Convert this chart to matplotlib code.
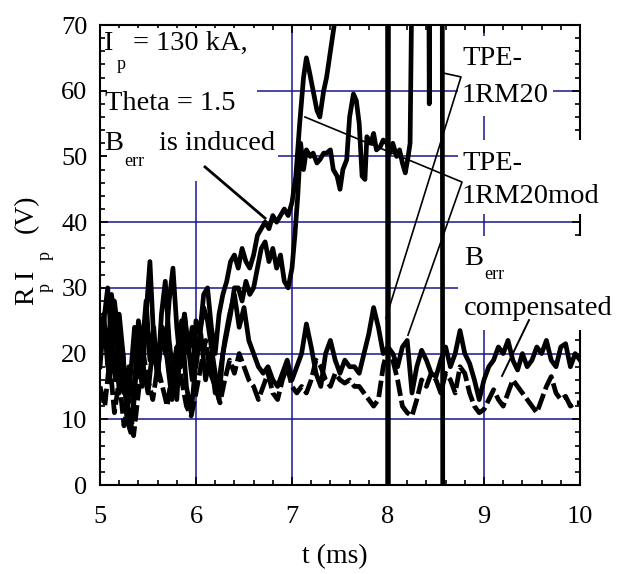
import matplotlib
matplotlib.use("Agg")
import matplotlib.pyplot as plt
from matplotlib.patches import Rectangle
from matplotlib.ticker import MultipleLocator

plt.rcParams['font.family'] = ['Liberation Serif', 'DejaVu Serif']

# ---------------- data ----------------
x_ticks = [5, 6, 7, 8, 9, 10]
y_ticks = [0, 10, 20, 30, 40, 50, 60, 70]

# TPE-1RM20 (error field induced)
a_t = [5.00, 5.04, 5.08, 5.12, 5.16, 5.20, 5.24, 5.28, 5.32, 5.36, 5.40, 5.44, 5.48, 5.52,
       5.56, 5.60, 5.64, 5.68, 5.72, 5.76, 5.80, 5.84, 5.88, 5.92, 5.96, 6.00, 6.04, 6.08,
       6.12, 6.16, 6.20, 6.24, 6.28, 6.32, 6.36, 6.40, 6.44, 6.48, 6.52, 6.56, 6.60, 6.64,
       6.68, 6.72, 6.76, 6.80, 6.84, 6.88, 6.92, 6.96, 7.00, 7.04, 7.08, 7.12, 7.15, 7.18,
       7.22, 7.26, 7.29, 7.33, 7.36, 7.40, 7.44, 7.48, 7.995, 8.000, 8.005, 8.425, 8.430,
       8.435, 8.565, 8.570]
a_v = [22, 26, 18, 29, 24, 14, 20, 12, 17, 24, 19, 15, 26, 34,
       22, 17, 23, 20, 28, 33, 24, 18, 26, 21, 16, 25, 23, 29,
       30, 24, 20, 26, 29, 31, 34, 35, 33, 36, 34, 33, 35, 38,
       39, 40, 39, 41, 40, 41, 42, 41, 43, 47, 55, 62, 65, 63,
       60, 57, 56, 60, 62, 66, 70, 78, 78, 0, 78, 78, 58,
       78, 78, 0]

# TPE-1RM20mod (error field induced)
b_t = [5.00, 5.04, 5.08, 5.12, 5.16, 5.20, 5.24, 5.28, 5.32, 5.36, 5.40, 5.44, 5.48, 5.52,
       5.56, 5.60, 5.64, 5.68, 5.72, 5.76, 5.80, 5.84, 5.88, 5.92, 5.96, 6.00, 6.04, 6.08,
       6.12, 6.16, 6.20, 6.24, 6.28, 6.32, 6.36, 6.40, 6.44, 6.48, 6.52, 6.56, 6.60, 6.64,
       6.68, 6.72, 6.76, 6.80, 6.84, 6.88, 6.92, 6.96, 7.00, 7.03, 7.06, 7.09, 7.12, 7.15,
       7.19, 7.22, 7.26, 7.29, 7.33, 7.36, 7.40, 7.43, 7.47, 7.50, 7.53, 7.57, 7.60, 7.64,
       7.67, 7.70, 7.73, 7.76, 7.78, 7.82, 7.85, 7.88, 7.92, 7.95, 7.99, 8.02, 8.05, 8.09,
       8.12, 8.15, 8.18, 8.21, 8.23, 8.25]
b_v = [18, 25, 30, 22, 16, 26, 20, 10, 8, 15, 25, 21, 28, 19,
       24, 16, 26, 31, 22, 17, 13, 22, 26, 20, 24, 18, 23, 27,
       25, 21, 17, 13, 20, 23, 26, 30, 30, 28, 31, 29, 30, 33,
       36, 37, 34, 36, 33, 35, 31, 30, 33, 38, 44, 52, 48, 51,
       50, 50.5, 49, 49.5, 50.5, 50.5, 51, 48, 47, 45, 48, 49.5, 56, 59.5,
       58.5, 55, 47, 46.5, 53, 52, 53.5, 51, 51.5, 52.5, 52, 50.5, 52, 50,
       51, 49, 47.5, 50, 52, 78]

# compensated traces
c_t = [5.00, 5.05, 5.10, 5.15, 5.20, 5.25, 5.30, 5.35, 5.40, 5.45, 5.50, 5.55, 5.60, 5.65,
       5.70, 5.75, 5.80, 5.85, 5.90, 5.95, 6.00, 6.05, 6.10, 6.15, 6.20, 6.25, 6.30, 6.35,
       6.40, 6.45, 6.50, 6.55, 6.60, 6.65, 6.70, 6.75, 6.80, 6.85, 6.90, 6.95, 7.00, 7.05,
       7.10, 7.15, 7.20, 7.25, 7.30, 7.35, 7.40, 7.45, 7.50, 7.55, 7.60, 7.65, 7.70, 7.75,
       7.80, 7.85, 7.90, 7.95, 8.00, 8.05, 8.10, 8.15, 8.20, 8.25, 8.30, 8.35, 8.40, 8.45,
       8.50, 8.55, 8.60, 8.65, 8.70, 8.75, 8.80, 8.85, 8.90, 8.95, 9.00, 9.05, 9.10, 9.15,
       9.20, 9.25, 9.30, 9.35, 9.40, 9.45, 9.50, 9.55, 9.60, 9.65, 9.70, 9.75, 9.80, 9.85,
       9.90, 9.95, 10.00]
c_v = [20, 24, 16, 28, 22, 14, 18, 12, 22, 18, 14, 21, 17, 24,
       19, 13, 20, 25, 15, 11, 19, 23, 16, 20, 14, 17, 22, 26,
       29, 24, 27, 22, 20, 18, 17, 18, 16, 15, 17, 19, 16, 18,
       20, 24.5, 21, 17, 15, 20, 22, 19, 17, 19, 18, 18, 17, 20,
       23, 27, 24, 20, 21, 20, 18, 21, 22, 14, 18, 20.5, 19, 17,
       16.5, 19, 21, 18, 20, 23.5, 20, 18.5, 16, 13, 16, 18, 19, 21,
       20, 22, 19, 17.5, 20, 18, 19, 21, 20, 22, 19, 18, 21, 21.5,
       18, 20, 19]
d_v = [15, 12, 19, 11, 16, 9, 13, 7.5, 14, 20, 16, 13, 18, 15,
       12, 17, 21, 16, 12, 10.5, 14, 18, 22, 17, 15, 12.5, 16, 19,
       17, 20, 18, 16, 15, 13, 15, 17, 14, 13, 16, 18, 15, 14,
       15, 14, 16, 19, 18, 16, 15, 17, 16, 15.5, 16, 15, 15, 14,
       13, 12, 13, 18, 21, 19, 16, 12, 11, 10.5, 13, 16, 15, 17,
       16, 14, 17, 16, 14, 18, 17, 14, 12, 11, 11.5, 13, 14.5, 13,
       12, 14, 16, 15, 14, 13, 12, 11, 13, 15, 16.5, 14, 13, 13.5,
       12, 12.5, 12.5]

# annotation pointer anchors (data coords)
induced_ptr = ([6.094, 6.719], [48.4, 40.6])
rm20_ptr = ([8.573, 8.760, 7.979], [62.7, 62.1, 25.4])
rm20mod_ptr = ([7.135, 8.771, 8.208], [56.0, 46.1, 22.8])
comp_ptr = ([9.469, 9.188], [25.1, 16.6])

# ---------------- figure ----------------
W, H = 640, 574
fig = plt.figure(figsize=(W / 100, H / 100), dpi=100)
L, R, T, B = 100, 580, 25, 485
ax = fig.add_axes([L / W, 1 - B / H, (R - L) / W, (B - T) / H])

def fp(x, y):
    return (x / W, 1 - y / H)

grid_c = '#18188f'
for gx in [6, 7, 8, 9]:
    ax.axvline(gx, color=grid_c, lw=1.1, zorder=1)
for gy in [10, 20, 30, 40, 50, 60]:
    ax.axhline(gy, color=grid_c, lw=1.1, zorder=1)

# white masks behind text blocks (figure pixel boxes), above grid & spines
masks = [(107, 28, 256, 80), (107, 80, 257, 118), (107, 118, 278, 181),
         (458, 36, 553, 116), (458, 140, 604, 214), (458, 236, 624, 330)]
for (x0, y0, x1, y1) in masks:
    ax.add_patch(Rectangle(fp(x0, y1), (x1 - x0) / W, (y1 - y0) / H,
                           transform=fig.transFigure, facecolor='white',
                           edgecolor='none', zorder=2.7, clip_on=False))

lw = 3.4
ax.plot(c_t, c_v, color='black', lw=lw, zorder=3)
ax.plot(c_t, d_v, color='black', lw=lw, zorder=3, dashes=(3.5, 1.0))
ax.plot(b_t, b_v, color='black', lw=lw, zorder=3)
ax.plot(a_t, a_v, color='black', lw=lw, zorder=3)

ax.plot(*induced_ptr, color='black', lw=2.0, zorder=4)
ax.plot(*rm20_ptr, color='black', lw=1.2, zorder=4)
ax.plot(*rm20mod_ptr, color='black', lw=1.2, zorder=4)
ax.plot(*comp_ptr, color='black', lw=1.4, zorder=4)

ax.set_xlim(5, 10)
ax.set_ylim(0, 70)
ax.set_xticks(x_ticks)
ax.set_yticks(y_ticks)
ax.xaxis.set_minor_locator(MultipleLocator(0.2))
ax.yaxis.set_minor_locator(MultipleLocator(2))
ax.tick_params(which='both', direction='in', top=True, right=True, width=1.2)
ax.tick_params(which='major', length=6)
ax.tick_params(which='minor', length=3.8)
ax.tick_params(axis='x', which='major', labelsize=19, pad=15)
ax.tick_params(axis='y', which='major', labelsize=19, pad=9)
for s in ax.spines.values():
    s.set_linewidth(1.5)

fs = 20.5
sub = 13

def txt(x, y, s, size=fs, **kw):
    fig.text(*fp(x, y), s, fontsize=size, ha='left', va='baseline', zorder=5, **kw)

txt(103, 50, 'I')
txt(117, 69, 'p', sub)
txt(133, 50, '= 130 kA,')
txt(105, 110, 'Theta = 1.5')
txt(104, 150, 'B')
txt(124, 166, 'err', sub)
txt(159, 150, 'is induced')
txt(462, 65, 'TPE-')
txt(462, 102, '1RM20')
txt(462, 170, 'TPE-')
txt(462, 203, '1RM20mod')
txt(464, 265, 'B')
txt(484, 279, 'err', sub)
txt(464, 315, 'compensated')

# x label
txt(302, 563, 't (ms)', 20)

# y label pieces (rotated)
def rtxt(x, y, s, size):
    fig.text(*fp(x, y), s, fontsize=size, rotation=90, rotation_mode='anchor',
             ha='left', va='baseline', zorder=5)

rtxt(33, 305, 'R', 20)
rtxt(50, 292, 'p', sub)
rtxt(33, 279, 'I', 20)
rtxt(50, 260, 'p', sub)
rtxt(33, 233, '(V)', 20)

fig.savefig('out.png', dpi=100)
